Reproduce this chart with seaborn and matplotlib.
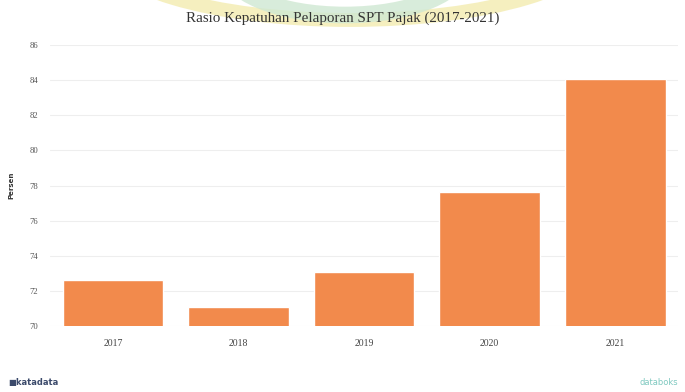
import matplotlib
matplotlib.use("Agg")
import matplotlib.pyplot as plt
from matplotlib.patches import Ellipse
import seaborn as sns
import pandas as pd

years = ["2017", "2018", "2019", "2020", "2021"]
ratio = [72.6, 71.1, 73.06, 77.63, 84.07]
y_ticks = [70, 72, 74, 76, 78, 80, 82, 84, 86]

df = pd.DataFrame({"Tahun": years, "Persen": ratio})

sns.set_theme(style="white")
plt.rcParams["font.family"] = ["DejaVu Sans"]

fig = plt.figure(figsize=(6.85, 3.92), dpi=100)
ax = fig.add_axes([0.073, 0.168, 0.917, 0.717])

sns.barplot(data=df, x="Tahun", y="Persen", color="#F28A4C", saturation=1,
            width=0.8, ax=ax, zorder=3)

ax.set_ylim(70, 86)
ax.set_yticks(y_ticks)
ax.set_yticklabels([str(t) for t in y_ticks], fontsize=6.2, color="#555555",
                   family="Liberation Serif")
ax.tick_params(axis="x", labelsize=7, colors="#444444", length=0, pad=9)
ax.tick_params(axis="y", length=0, pad=15)
for lbl in ax.get_xticklabels():
    lbl.set_family("Liberation Serif")
for lbl in ax.get_yticklabels():
    lbl.set_horizontalalignment("left")
ax.grid(axis="y", color="#eeeeee", linewidth=0.8, zorder=0)
for s in ax.spines.values():
    s.set_visible(False)
ax.set_xlabel("")
ax.set_ylabel("Persen", fontsize=5, fontweight="bold", color="#333333")
ax.yaxis.set_label_coords(-0.056, 0.5)

fig.text(0.5, 0.953, "Rasio Kepatuhan Pelaporan SPT Pajak (2017-2021)",
         ha="center", va="center", fontsize=10.8, color="#333333",
         family="Liberation Serif")

# faint emblem arcs along the top edge
bg = fig.add_axes([0, 0, 1, 1], zorder=-1)
bg.set_xlim(0, 685)
bg.set_ylim(392, 0)
bg.axis("off")
bg.add_patch(Ellipse((350, -55), 500, 150, fill=False, lw=10,
                     edgecolor="#f3ecb0", alpha=0.8))
bg.add_patch(Ellipse((345, -35), 240, 100, fill=False, lw=12,
                     edgecolor="#cfe8d2", alpha=0.8))

# footer branding
fig.text(0.012, 0.025, "\u25A0katadata", fontsize=6, color="#3b4a6b",
         fontweight="bold", va="center")
fig.text(0.99, 0.025, "databoks", fontsize=6, color="#7fc9c0", ha="right",
         va="center")

fig.savefig("out.png", dpi=100)
